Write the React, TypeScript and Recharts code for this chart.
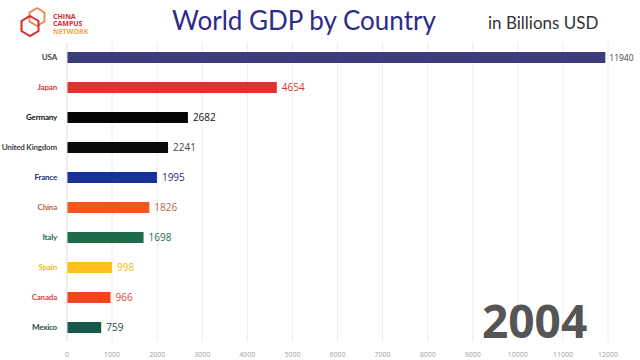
import { BarChart, Bar, XAxis, YAxis, CartesianGrid, Cell, LabelList } from "recharts";

const countries = ["USA", "Japan", "Germany", "United Kingdom", "France", "China", "Italy", "Spain", "Canada", "Mexico"];
const gdp = [11940, 4654, 2682, 2241, 1995, 1826, 1698, 998, 966, 759];
const barColors = ["#3c3d78", "#e0322e", "#050505", "#0a0a0a", "#17309a", "#f5561c", "#1d6b4b", "#fcbf1b", "#f2451b", "#16594a"];
const labelColors = ["#444444", "#d23a3a", "#111111", "#444444", "#1d2d80", "#b8664f", "#2a6a52", "#f5b820", "#d8483a", "#1f4a40"];
const xTicks = [0, 1000, 2000, 3000, 4000, 5000, 6000, 7000, 8000, 9000, 10000, 11000, 12000];
const year = "2004";

const rows = countries.map((name, i) => ({ name, value: gdp[i], color: barColors[i], labelColor: labelColors[i] }));

const font = "'Open Sans', sans-serif";

const CountryTick = (props: any) => {
  const { x, y, payload, index } = props;
  return (
    <text x={x - 2} y={y} dy={3} textAnchor="end" fontSize={8} letterSpacing={-0.2} fontWeight={700} fontFamily="Lato, sans-serif" fill={labelColors[index]}>
      {payload.value}
    </text>
  );
};

const ValueLabel = (props: any) => {
  const { x, y, width, height, value, index } = props;
  const small = value > 10000;
  return (
    <text x={x + width + (small ? 4 : 5)} y={y + height / 2} dy={small ? 3 : 3.5} fontSize={small ? 8.5 : 10} fontFamily={font} fill={labelColors[index]}>
      {value}
    </text>
  );
};

const Logo = () => (
  <svg width={120} height={44} style={{ position: "absolute", left: 0, top: 0 }}>
    <polygon points="37,8 44.5,12.5 44.5,21.5 37,26 29.5,21.5 29.5,12.5" fill="none" stroke="#e8884a" strokeWidth={1.8} />
    <polygon points="30,16 38.5,21 38.5,31 30,36 21.5,31 21.5,21" fill="none" stroke="#d42a30" strokeWidth={2} />
    <text x={53} y={18.5} fontSize={7} fontWeight={700} fontFamily={font} fill="#cf2d35">CHINA</text>
    <text x={53} y={26} fontSize={7} fontWeight={700} fontFamily={font} fill="#cf2d35">CAMPUS</text>
    <text x={53} y={33.5} fontSize={7} fontWeight={700} fontFamily={font} fill="#f0a550">NETWORK</text>
  </svg>
);

export default function App() {
  return (
    <div style={{ position: "absolute", left: 0, top: 0, width: 640, height: 360, background: "#fff", overflow: "hidden" }}>
      <BarChart
        width={640}
        height={360}
        data={rows}
        layout="vertical"
        margin={{ top: 42, right: 32, bottom: 0, left: 0 }}
        barCategoryGap={9}
      >
        <CartesianGrid horizontal={false} stroke="#ececec" />
        <XAxis
          type="number"
          domain={[0, 12000]}
          ticks={xTicks}
          height={18}
          axisLine={false}
          tickLine={false}
          tickMargin={4}
          tick={{ fontSize: 7, fill: "#a0a0a0", fontFamily: font }}
        />
        <YAxis
          type="category"
          dataKey="name"
          width={67}
          axisLine={{ stroke: "#e6e6e6" }}
          tickLine={false}
          tick={<CountryTick />}
          interval={0}
        />
        <Bar dataKey="value" barSize={11} isAnimationActive={false}>
          {rows.map((r) => (
            <Cell key={r.name} fill={r.color} />
          ))}
          <LabelList dataKey="value" content={<ValueLabel />} />
        </Bar>
      </BarChart>
      <Logo />
      <div style={{ position: "absolute", left: 172, top: 3, fontFamily: "Lato, sans-serif", fontSize: 26, color: "#2b2b8a", lineHeight: "34px" }}>
        World GDP by Country
      </div>
      <div style={{ position: "absolute", left: 488, top: 12, fontFamily: "Lato, sans-serif", fontSize: 17, color: "#333", lineHeight: "22px" }}>
        in Billions USD
      </div>
      <div style={{ position: "absolute", left: 482, top: 290, fontFamily: font, fontWeight: 700, fontSize: 46, color: "#555", lineHeight: "60px" }}>
        {year}
      </div>
    </div>
  );
}
